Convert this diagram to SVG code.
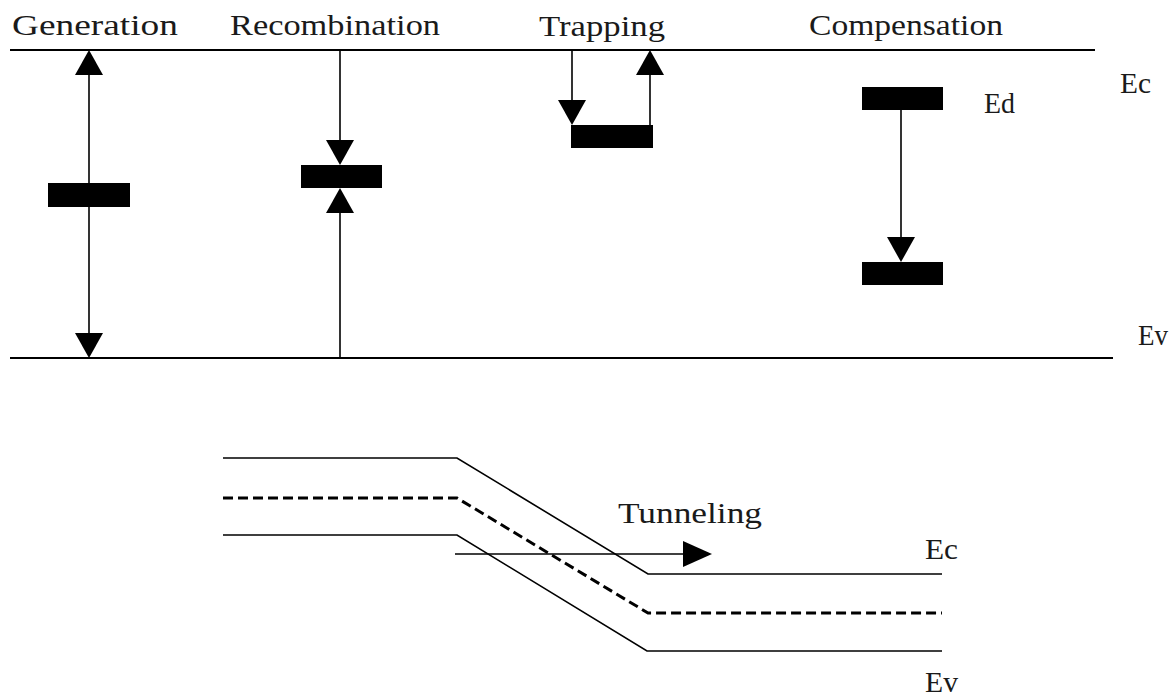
<svg xmlns="http://www.w3.org/2000/svg" xmlns:xlink="http://www.w3.org/1999/xlink" width="1175" height="698" viewBox="0 0 1175 698">
<style>
.band{stroke:#000;stroke-width:2;fill:none}
.conn{stroke:#000;stroke-width:1.6;fill:none}
.dash{stroke:#000;stroke-width:3;fill:none;stroke-dasharray:10 5}
.lvl{fill:#000}
.lbl{font-family:"Liberation Serif","Times New Roman",serif;font-size:30px;fill:#1a1a1a}
</style>
<defs>
<polygon id="hd" points="-14,-25 14,-25 0,0" fill="#000"/>
<polygon id="hu" points="-14,25 14,25 0,0" fill="#000"/>
<polygon id="hr" points="-29,-13 -29,13 0,0" fill="#000"/>
</defs>
<rect width="1175" height="698" fill="#fff"/>

<g id="bands-top">
<line class="band" x1="10" y1="50" x2="1095" y2="50"/>
<line class="band" x1="10" y1="358" x2="1113" y2="358"/>
<text class="lbl" x="1120" y="93" textLength="31" lengthAdjust="spacingAndGlyphs">Ec</text>
<text class="lbl" x="1138" y="345" textLength="30" lengthAdjust="spacingAndGlyphs">Ev</text>
</g>

<g id="generation">
<text class="lbl" x="12" y="35" textLength="166" lengthAdjust="spacingAndGlyphs">Generation</text>
<rect class="lvl" x="48" y="183" width="82" height="24"/>
</g>
<g id="recombination">
<text class="lbl" x="230" y="35" textLength="210" lengthAdjust="spacingAndGlyphs">Recombination</text>
<rect class="lvl" x="301" y="165" width="81" height="23"/>
</g>
<g id="trapping">
<text class="lbl" x="539" y="36" textLength="126" lengthAdjust="spacingAndGlyphs">Trapping</text>
<rect class="lvl" x="571" y="125" width="82" height="23"/>
</g>
<g id="compensation">
<text class="lbl" x="809" y="35" textLength="194" lengthAdjust="spacingAndGlyphs">Compensation</text>
<rect class="lvl" x="862" y="87" width="81" height="23"/>
<text class="lbl" x="984" y="113" textLength="31" lengthAdjust="spacingAndGlyphs">Ed</text>
<rect class="lvl" x="862" y="262" width="81" height="23"/>
</g>

<g id="tunneling-bands">
<polyline class="band" style="stroke-width:1.6" points="223,458 457,458 648,574 942,574"/>
<polyline class="dash" points="223,498 457,498 648,613 942,613"/>
<polyline class="band" style="stroke-width:1.6" points="223,535 457,535 647,651 942,651"/>
<text class="lbl" x="618" y="523" textLength="144" lengthAdjust="spacingAndGlyphs">Tunneling</text>
<text class="lbl" x="925" y="559" textLength="33" lengthAdjust="spacingAndGlyphs">Ec</text>
<text class="lbl" x="925" y="692" font-size="28" textLength="33" lengthAdjust="spacingAndGlyphs">Ev</text>
</g>

<g id="connectors">
<line class="conn" x1="89" y1="60" x2="89" y2="348"/>
<use xlink:href="#hu" x="89" y="50"/>
<use xlink:href="#hd" x="89" y="358"/>
<line class="conn" x1="340" y1="50" x2="340" y2="155"/>
<use xlink:href="#hd" x="340" y="165"/>
<line class="conn" x1="340" y1="198" x2="340" y2="358"/>
<use xlink:href="#hu" x="340" y="188"/>
<line class="conn" x1="572" y1="50" x2="572" y2="115"/>
<use xlink:href="#hd" x="572" y="125"/>
<line class="conn" x1="650" y1="125" x2="650" y2="60"/>
<use xlink:href="#hu" x="650" y="50"/>
<line class="conn" x1="901" y1="110" x2="901" y2="252"/>
<use xlink:href="#hd" x="901" y="262"/>
<line class="conn" x1="455" y1="554" x2="700" y2="554"/>
<use xlink:href="#hr" x="712" y="554"/>
</g>
</svg>
